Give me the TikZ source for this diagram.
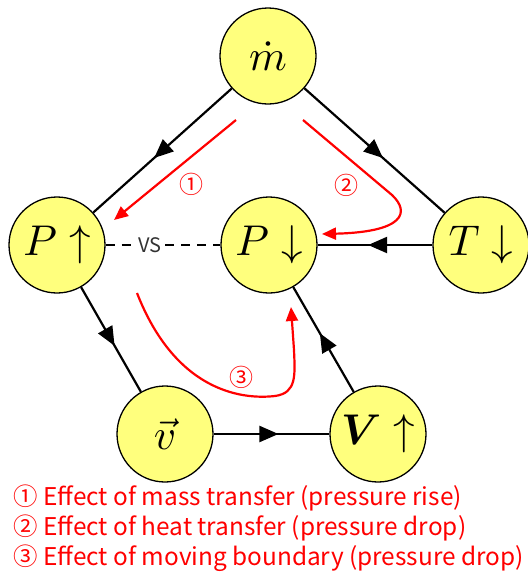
\documentclass[tikz,border=0pt]{standalone}
\usepackage{amsmath}
\usepackage{amssymb}
\usepackage{fontspec}
\newfontfamily\krfont{Noto Sans CJK KR}
\usetikzlibrary{arrows.meta,decorations.markings}
\definecolor{nodeyellow}{RGB}{255,255,125}
\newcommand{\statetext}[1]{\scalebox{4.3}{$#1$}}

\begin{document}
\begin{tikzpicture}[x=1pt,y=-1pt,>=Stealth,
  state/.style={circle,draw,line width=1.3pt,fill=nodeyellow,minimum size=96pt,inner sep=0pt},
  flow/.style={line width=2.2pt,postaction={decorate},
    decoration={markings,mark=at position 0.56 with {\arrow{Triangle[length=19pt,width=16pt]}}}},
  effect/.style={red,line width=2.2pt,-{Triangle[length=14pt,width=12pt]}},
  tag/.style={text=red,font=\krfont\fontsize{24}{24}\selectfont}]
  \useasboundingbox (0,0) rectangle (528,579);
  % states
  \node[state] (mdot) at (268,56) {\statetext{\dot{m}}};
  \node[state] (pup) at (57,245) {\statetext{P\uparrow}};
  \node[state] (pdn) at (269,245) {\statetext{P\downarrow}};
  \node[state] (tdn) at (481,245) {\statetext{T\downarrow}};
  \node[state] (vel) at (165,434) {\statetext{\vec{v}}};
  \node[state] (vol) at (378,434) {\statetext{\boldsymbol{V}\uparrow}};
  % connections
  \draw[flow] (mdot) -- (pup);
  \draw[flow] (mdot) -- (tdn);
  \draw[flow] (tdn) -- (pdn);
  \draw[flow] (pup) -- (vel);
  \draw[flow] (vel) -- (vol);
  \draw[flow] (vol) -- (pdn);
  % versus
  \node[font=\krfont\fontsize{20}{20}\selectfont,text=black!80] (vs) at (150,245) {VS};
  \draw[line width=1.4pt,dash pattern=on 9pt off 7pt] (pup) -- (vs);
  \draw[line width=1.4pt,dash pattern=on 9pt off 7pt] (vs) -- (pdn);
  % effects
  \coordinate (e1s) at (236,120);
  \coordinate (e1e) at (114,220);
  \coordinate (e2s) at (303,120);
  \coordinate (e2e) at (322,234);
  \coordinate (e3s) at (137,293);
  \coordinate (e3e) at (291,307);
  \draw[effect] (e1s) -- (e1e);
  \draw[effect] (e2s) -- (392,195) .. controls (410,212) and (405,232) .. (e2e);
  \draw[effect] (e3s) .. controls (175,390) and (240,400) .. (275,396)
    .. controls (297,393) and (295,375) .. (294,350) -- (e3e);
  \node[tag] (n1) at (191,184) {①};
  \node[tag] (n2) at (346,185) {②};
  \node[tag] (n3) at (241,377) {③};
  % legend
  \node[anchor=west,align=left,text=red,font=\krfont\fontsize{24.4}{30}\selectfont] (legend) at (10,528)
    {① Effect of mass transfer (pressure rise)\\
     ② Effect of heat transfer (pressure drop)\\
     ③ Effect of moving boundary (pressure drop)};
\end{tikzpicture}
\end{document}
